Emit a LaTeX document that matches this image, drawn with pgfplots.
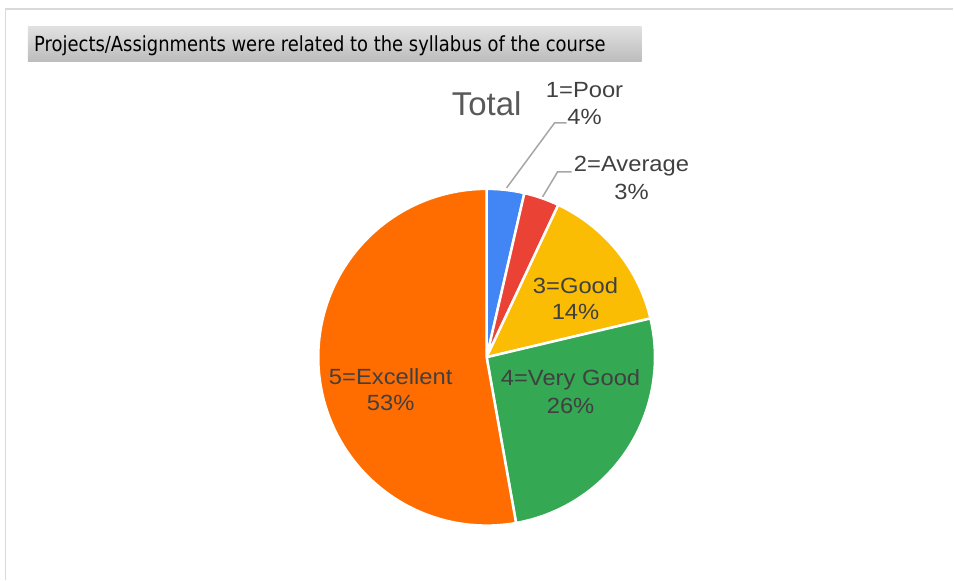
\documentclass[border=0pt]{standalone}
\usepackage{pgfplots}
\pgfplotsset{compat=1.18}
\usepackage{fontspec}
\setmainfont{Liberation Sans}
\newfontfamily\titlefont{DejaVu Sans}
\definecolor{cpoor}{HTML}{4285F4}
\definecolor{cavg}{HTML}{EA4335}
\definecolor{cgood}{HTML}{FBBC04}
\definecolor{cvgood}{HTML}{34A853}
\definecolor{cexc}{HTML}{FF6D01}
\definecolor{lbl}{HTML}{404040}
\definecolor{ttl}{HTML}{595959}
\definecolor{leader}{HTML}{A6A6A6}
\definecolor{frame}{HTML}{D9D9D9}
\definecolor{boxtop}{RGB}{224,224,224}
\definecolor{boxbot}{RGB}{188,188,188}
\begin{document}
\begin{tikzpicture}
\begin{axis}[
  scale only axis, width=954pt, height=580pt,
  xmin=0, xmax=954, ymin=0, ymax=580, y dir=reverse,
  hide axis, clip=false,
]
% full canvas for bounding box
\path[draw=none, fill=none] (0,0) rectangle (954,580);
% frame
\draw[frame, line width=1.5pt] (5.5,580) -- (5.5,9) -- (954,9);
% title box
\shade[top color=boxtop, bottom color=boxbot] (28,27) rectangle (642,62);
\node[anchor=base west, inner sep=0pt, text=black] at (34,51.7)
  {\resizebox{572pt}{15.8pt}{\titlefont\fontsize{20}{24}\selectfont Projects/Assignments were related to the syllabus of the course}};
% pie: cumulative percentages 0, 3.6, 7.0, 21.3, 47.2, 100
\addplot[fill=cpoor, draw=white, line width=2.5pt, line join=round, domain=0:3.6, samples=20, variable=\t]
  ({487+168.5*sin(3.6*\t)}, {357.5-168.5*cos(3.6*\t)}) -- (487,357.5) -- cycle;
\addplot[fill=cavg, draw=white, line width=2.5pt, line join=round, domain=3.6:7.0, samples=20, variable=\t]
  ({487+168.5*sin(3.6*\t)}, {357.5-168.5*cos(3.6*\t)}) -- (487,357.5) -- cycle;
\addplot[fill=cgood, draw=white, line width=2.5pt, line join=round, domain=7.0:21.3, samples=40, variable=\t]
  ({487+168.5*sin(3.6*\t)}, {357.5-168.5*cos(3.6*\t)}) -- (487,357.5) -- cycle;
\addplot[fill=cvgood, draw=white, line width=2.5pt, line join=round, domain=21.3:47.2, samples=60, variable=\t]
  ({487+168.5*sin(3.6*\t)}, {357.5-168.5*cos(3.6*\t)}) -- (487,357.5) -- cycle;
\addplot[fill=cexc, draw=white, line width=2.5pt, line join=round, domain=47.2:100, samples=120, variable=\t]
  ({487+168.5*sin(3.6*\t)}, {357.5-168.5*cos(3.6*\t)}) -- (487,357.5) -- cycle;
% leader lines
\draw[leader, line width=1.5pt] (507,188) -- (555,123) -- (567,123);
\draw[leader, line width=1.5pt] (543,197) -- (558,172) -- (572,172);
% chart title
\node[text=ttl, font=\fontsize{33}{38}\selectfont] at (487,104) {Total};
% labels
\tikzset{lab/.style={text=lbl, font=\fontsize{22}{26}\selectfont, xscale=1.08, inner sep=0pt}}
\node[lab] at (585,90) {1=Poor};
\node[lab] at (585,116.7) {4\%};
\node[lab] at (632,166) {2=Average};
\node[lab] at (632,192.5) {3\%};
\node[lab] at (576,285.8) {3=Good};
\node[lab] at (576,311.7) {14\%};
\node[lab] at (571,379.7) {4=Very Good};
\node[lab] at (571,406) {26\%};
\node[lab] at (391,376.7) {5=Excellent};
\node[lab] at (391,403) {53\%};
\end{axis}
\end{tikzpicture}
\end{document}
